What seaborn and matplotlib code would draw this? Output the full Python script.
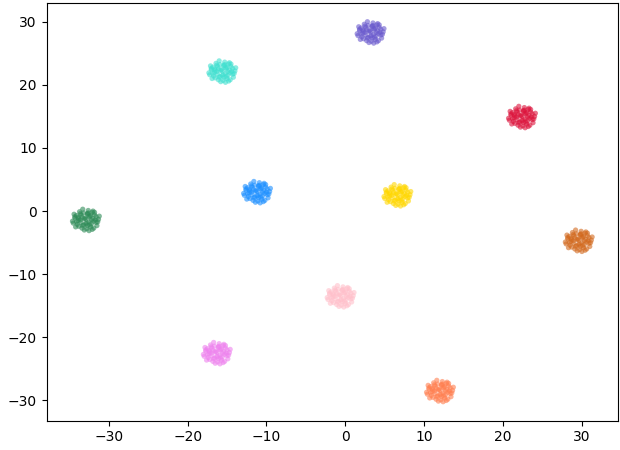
import matplotlib
matplotlib.use('Agg')
import matplotlib.pyplot as plt
import numpy as np
import pandas as pd
import seaborn as sns

# cluster centres
labels = ['0', '1', '2', '3', '4', '5', '6', '7', '8', '9']
center_x = [3.2, -15.6, 22.4, -11.2, 6.6, -32.9, 29.6, -0.6, -16.3, 12.0]
center_y = [28.3, 22.1, 14.9, 3.0, 2.5, -1.4, -4.7, -13.5, -22.5, -28.5]
colors = ['slateblue', 'turquoise', 'crimson', 'dodgerblue', 'gold',
          'seagreen', 'chocolate', 'pink', 'violet', 'coral']

# spread of points inside one blob (hand-placed)
off_x = [0.0, 0.4, -0.5, 0.9, -1.0, 0.2, -0.3, 1.3, -1.4, 0.6, -0.7, 1.6, -1.6, 0.1, 0.8,
         -0.9, 1.1, -1.2, 0.3, -0.2, 0.5, -0.6, 1.4, -1.5, 0.7, -0.1, 1.0, -0.8, 0.2, -0.4,
         1.7, -1.7, 0.9, -1.1, 0.4, -0.3, 1.2, -1.3, 0.0, 0.6, -0.5, 1.5, -1.0, 0.3, -0.7,
         0.8, -0.2, 1.1, -1.4, 0.5, 0.1, -0.9, 0.4, 1.3, -0.4, -1.2, 0.7, -0.6, 0.2, 1.0]
off_y = [0.1, -0.3, 0.4, 0.2, -0.1, 0.9, -0.8, -0.4, 0.3, -1.1, 1.0, 0.1, -0.5, -1.4, 1.2,
         -1.0, 0.8, 0.7, 1.5, -1.6, 0.5, -0.4, -0.9, 0.9, -0.6, 0.3, -1.3, 1.3, -0.9, 1.7,
         0.6, -0.2, 1.4, -0.7, -1.7, 1.1, 0.0, -1.1, -0.6, 0.7, -1.3, -0.3, 0.4, 1.1, 0.0,
         -1.5, 0.2, 1.2, 0.5, -0.8, -0.5, 0.2, 0.6, 0.5, -0.9, -0.3, 0.0, 0.8, 1.0, -0.2]

rows = []
for lab, cx, cy in zip(labels, center_x, center_y):
    for dx, dy in zip(off_x, off_y):
        rows.append({'x': cx + dx, 'y': cy + dy, 'label': lab})
df = pd.DataFrame(rows)

fig, ax = plt.subplots(figsize=(6.2, 4.5), dpi=100)
sns.scatterplot(data=df, x='x', y='y', hue='label', palette=colors, legend=False,
                alpha=0.6, s=14, linewidth=0, ax=ax)
ax.set_xlabel('')
ax.set_ylabel('')
ax.tick_params(labelsize=10)
fig.subplots_adjust(left=0.075, right=0.997, top=0.994, bottom=0.065)
fig.savefig('out.png')
